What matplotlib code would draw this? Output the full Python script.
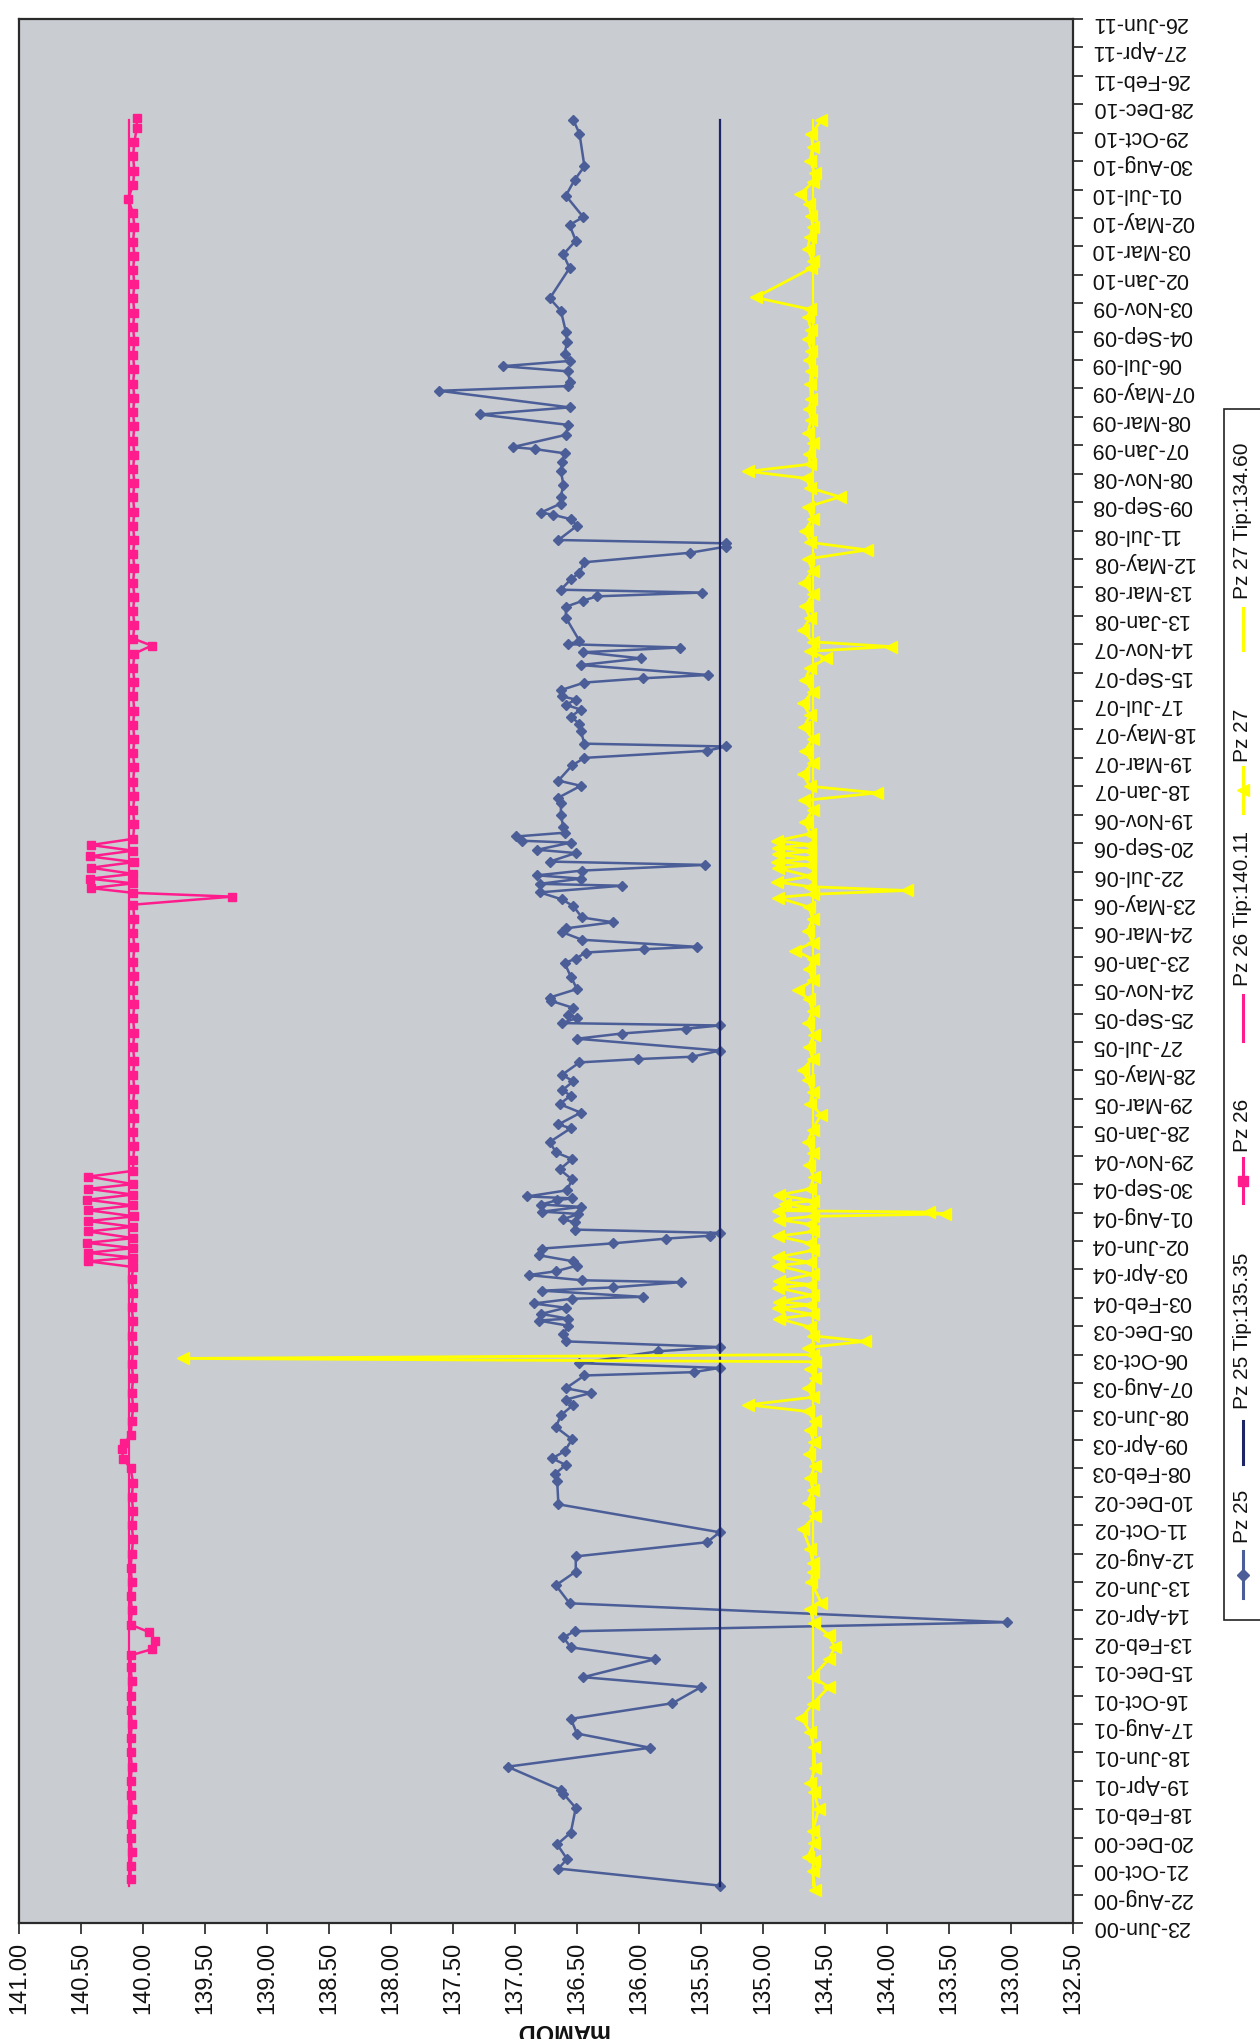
import numpy as np
import pandas as pd
import matplotlib
matplotlib.use("Agg")
import matplotlib.pyplot as plt
import matplotlib.transforms as mtransforms
from matplotlib.lines import Line2D
from matplotlib.patches import Rectangle

# ---------------------------------------------------------------------------
# Piezometer readings, dates as Excel serial numbers (origin 1899-12-30)
# ---------------------------------------------------------------------------
pz25_serial = [
    36779, 36815, 36835, 36866, 36891, 36943, 36973, 36981, 37030, 37070, 37100, 37131,
    37164, 37198, 37219, 37257, 37282, 37303, 37316, 37335, 37375, 37413, 37442, 37474,
    37504, 37525, 37584, 37634, 37648, 37667, 37681, 37696, 37721, 37747, 37772, 37794,
    37805, 37819, 37829, 37856, 37863, 37872, 37882, 37907, 37916, 37928, 37943, 37961,
    37972, 37976, 37986, 37999, 38008, 38018, 38022, 38035, 38042, 38053, 38057, 38068,
    38076, 38088, 38097, 38110, 38124, 38135, 38145, 38151, 38157, 38164, 38179, 38186,
    38197, 38202, 38212, 38217, 38226, 38230, 38234, 38247, 38270, 38291, 38313, 38327,
    38349, 38378, 38386, 38411, 38429, 38447, 38458, 38477, 38491, 38517, 38524, 38529,
    38542, 38567, 38578, 38588, 38595, 38600, 38611, 38618, 38632, 38647, 38654, 38672,
    38698, 38727, 38736, 38749, 38756, 38761, 38776, 38792, 38800, 38813, 38823, 38847,
    38861, 38876, 38890, 38894, 38905, 38912, 38922, 38934, 38941, 38959, 38966, 38981,
    38985, 38994, 39002, 39013, 39040, 39064, 39076, 39101, 39112, 39144, 39160, 39175,
    39184, 39190, 39217, 39232, 39247, 39262, 39272, 39283, 39290, 39303, 39319, 39328,
    39335, 39356, 39370, 39383, 39393, 39400, 39407, 39456, 39479, 39492, 39501, 39509,
    39515, 39537, 39551, 39573, 39593, 39606, 39613, 39620, 39650, 39664, 39673, 39678,
    39697, 39711, 39737, 39766, 39784, 39803, 39812, 39816, 39842, 39863, 39885, 39900,
    39935, 39945, 39954, 39976, 39987, 39998, 40013, 40038, 40060, 40104, 40130, 40194,
    40223, 40252, 40285, 40302, 40347, 40380, 40409, 40478, 40507,
]
pz25_level = [
    135.35, 136.65, 136.58, 136.66, 136.55, 136.51, 136.61, 136.63, 137.06, 135.91, 136.50, 136.55,
    135.73, 135.50, 136.45, 135.87, 136.55, 136.61, 136.52, 133.03, 136.56, 136.67, 136.51, 136.51,
    135.45, 135.35, 136.65, 136.66, 136.68, 136.59, 136.70, 136.60, 136.54, 136.67, 136.63, 136.53,
    136.59, 136.39, 136.59, 136.44, 135.56, 135.35, 136.48, 135.85, 135.35, 136.59, 136.61, 136.57,
    136.81, 136.57, 136.79, 136.59, 136.85, 136.54, 135.97, 136.78, 136.21, 135.66, 136.46, 136.89,
    136.67, 136.50, 136.53, 136.81, 136.78, 136.21, 135.78, 135.43, 135.35, 136.52, 136.52, 136.61,
    136.49, 136.78, 136.47, 136.79, 136.66, 136.54, 136.90, 136.58, 136.54, 136.64, 136.54, 136.67,
    136.72, 136.55, 136.65, 136.47, 136.64, 136.55, 136.62, 136.53, 136.62, 136.48, 136.01, 135.57,
    135.35, 136.50, 136.14, 135.62, 135.35, 136.62, 136.50, 136.57, 136.53, 136.71, 136.72, 136.50,
    136.55, 136.60, 136.51, 136.43, 135.96, 135.53, 136.46, 136.62, 136.59, 136.21, 136.46, 136.53,
    136.62, 136.80, 136.14, 136.80, 136.47, 136.82, 136.46, 135.47, 136.72, 136.51, 136.82, 136.55,
    136.94, 136.99, 136.60, 136.61, 136.63, 136.63, 136.65, 136.47, 136.65, 136.54, 136.44, 135.45,
    135.30, 136.44, 136.47, 136.48, 136.55, 136.47, 136.59, 136.51, 136.62, 136.63, 136.44, 135.97,
    135.44, 136.47, 135.98, 136.45, 135.67, 136.57, 136.48, 136.59, 136.59, 136.45, 136.34, 135.49,
    136.63, 136.55, 136.48, 136.44, 135.59, 135.30, 135.30, 136.65, 136.50, 136.55, 136.69, 136.79,
    136.63, 136.63, 136.61, 136.63, 136.62, 136.60, 136.84, 137.02, 136.59, 136.57, 137.28, 136.56,
    137.61, 136.57, 136.56, 136.57, 137.10, 136.56, 136.60, 136.58, 136.59, 136.63, 136.72, 136.56,
    136.61, 136.51, 136.56, 136.45, 136.59, 136.52, 136.44, 136.48, 136.53,
]

pz26_serial = [
    36793, 36820, 36850, 36880, 36910, 36940, 36970, 37000, 37030, 37060, 37090, 37120,
    37150, 37180, 37210, 37240, 37265, 37278, 37296, 37314, 37330, 37360, 37390, 37420,
    37450, 37480, 37510, 37540, 37570, 37600, 37630, 37660, 37680, 37700, 37713, 37730,
    37760, 37790, 37820, 37850, 37880, 37910, 37940, 37970, 38000, 38030, 38060, 38085,
    38097, 38105, 38115, 38125, 38136, 38146, 38160, 38170, 38182, 38192, 38205, 38215,
    38227, 38238, 38250, 38260, 38276, 38288, 38310, 38340, 38370, 38400, 38430, 38460,
    38490, 38520, 38550, 38580, 38610, 38640, 38670, 38700, 38730, 38760, 38790, 38820,
    38850, 38867, 38875, 38885, 38895, 38905, 38915, 38928, 38940, 38952, 38964, 38976,
    38989, 39020, 39050, 39080, 39110, 39140, 39170, 39200, 39230, 39260, 39290, 39320,
    39350, 39380, 39397, 39412, 39440, 39470, 39500, 39530, 39560, 39590, 39620, 39650,
    39680, 39710, 39740, 39770, 39800, 39830, 39860, 39890, 39920, 39950, 39980, 40010,
    40040, 40070, 40100, 40130, 40160, 40190, 40220, 40250, 40280, 40310, 40340, 40370,
    40400, 40430, 40460, 40490, 40512,
]
pz26_level = [
    140.10, 140.10, 140.09, 140.10, 140.10, 140.09, 140.10, 140.10, 140.09, 140.10, 140.10, 140.09,
    140.10, 140.10, 140.09, 140.10, 140.10, 139.93, 139.90, 139.95, 140.10, 140.09, 140.10, 140.09,
    140.10, 140.09, 140.08, 140.09, 140.08, 140.09, 140.08, 140.10, 140.16, 140.17, 140.15, 140.10,
    140.09, 140.08, 140.09, 140.08, 140.09, 140.08, 140.09, 140.08, 140.09, 140.08, 140.09, 140.08,
    140.44, 140.08, 140.44, 140.08, 140.45, 140.08, 140.44, 140.08, 140.44, 140.07, 140.44, 140.08,
    140.45, 140.08, 140.44, 140.08, 140.44, 140.08, 140.08, 140.07, 140.08, 140.07, 140.08, 140.07,
    140.08, 140.07, 140.08, 140.07, 140.08, 140.07, 140.08, 140.07, 140.08, 140.07, 140.08, 140.07,
    140.08, 139.28, 140.08, 140.42, 140.08, 140.43, 140.08, 140.42, 140.07, 140.43, 140.08, 140.42,
    140.08, 140.07, 140.08, 140.07, 140.08, 140.07, 140.08, 140.07, 140.08, 140.07, 140.08, 140.07,
    140.08, 140.07, 139.93, 140.08, 140.07, 140.08, 140.07, 140.08, 140.07, 140.08, 140.07, 140.08,
    140.07, 140.08, 140.07, 140.08, 140.07, 140.08, 140.07, 140.08, 140.07, 140.08, 140.07, 140.08,
    140.07, 140.08, 140.07, 140.08, 140.07, 140.08, 140.07, 140.08, 140.07, 140.08, 140.12, 140.08,
    140.07, 140.08, 140.07, 140.05, 140.05,
]

pz27_serial = [
    36770, 36810, 36831, 36839, 36868, 36894, 36941, 36976, 36995, 37027, 37071, 37104,
    37133, 37162, 37198, 37220, 37257, 37282, 37308, 37333, 37363, 37376, 37420, 37442,
    37460, 37490, 37532, 37560, 37587, 37615, 37640, 37665, 37690, 37715, 37740, 37760,
    37780, 37794, 37810, 37830, 37850, 37870, 37885, 37892, 37900, 37915, 37928, 37940,
    37958, 37976, 37985, 37998, 38005, 38012, 38025, 38041, 38048, 38055, 38070, 38088,
    38095, 38106, 38120, 38135, 38150, 38160, 38175, 38185, 38192, 38197, 38201, 38204,
    38210, 38219, 38225, 38237, 38250, 38275, 38300, 38325, 38350, 38375, 38407, 38430,
    38455, 38480, 38502, 38525, 38550, 38575, 38600, 38625, 38650, 38669, 38690, 38715,
    38735, 38753, 38770, 38795, 38820, 38845, 38865, 38872, 38880, 38888, 38898, 38910,
    38927, 38934, 38941, 38948, 38956, 38963, 38970, 38977, 38985, 39000, 39025, 39050,
    39070, 39086, 39100, 39125, 39150, 39175, 39200, 39225, 39250, 39275, 39300, 39325,
    39350, 39370, 39385, 39395, 39405, 39430, 39455, 39480, 39505, 39530, 39555, 39580,
    39599, 39615, 39640, 39665, 39690, 39711, 39730, 39750, 39765, 39780, 39802, 39825,
    39846, 39874, 39896, 39918, 39950, 39977, 40000, 40020, 40045, 40063, 40090, 40107,
    40132, 40194, 40209, 40235, 40260, 40280, 40304, 40330, 40350, 40375, 40394, 40420,
    40450, 40477, 40506,
]
pz27_level = [
    134.58, 134.60, 134.59, 134.64, 134.59, 134.60, 134.55, 134.59, 134.62, 134.58, 134.59, 134.62,
    134.69, 134.60, 134.47, 134.60, 134.47, 134.42, 134.47, 134.59, 134.62, 134.53, 134.61, 134.60,
    134.60, 134.62, 134.68, 134.58, 134.64, 134.60, 134.62, 134.58, 134.63, 134.59, 134.62, 134.58,
    134.64, 135.12, 134.60, 134.64, 134.58, 134.62, 134.58, 139.68, 134.60, 134.64, 134.18, 134.60,
    134.62, 134.87, 134.60, 134.88, 134.62, 134.87, 134.60, 134.88, 134.62, 134.87, 134.60, 134.88,
    134.62, 134.88, 134.60, 134.62, 134.88, 134.60, 134.62, 134.87, 134.60, 133.53, 133.66, 134.88,
    134.62, 134.82, 134.60, 134.87, 134.62, 134.59, 134.63, 134.60, 134.64, 134.60, 134.53, 134.62,
    134.60, 134.64, 134.68, 134.60, 134.63, 134.59, 134.64, 134.60, 134.63, 134.72, 134.60, 134.63,
    134.60, 134.74, 134.60, 134.64, 134.60, 134.63, 134.88, 134.60, 133.84, 134.62, 134.89, 134.62,
    134.88, 134.62, 134.89, 134.62, 134.88, 134.62, 134.88, 134.62, 134.89, 134.62, 134.66, 134.60,
    134.67, 134.08, 134.62, 134.68, 134.60, 134.66, 134.60, 134.67, 134.62, 134.68, 134.60, 134.66,
    134.62, 134.49, 134.62, 133.97, 134.60, 134.68, 134.62, 134.66, 134.60, 134.67, 134.60, 134.64,
    134.16, 134.62, 134.66, 134.60, 134.64, 134.38, 134.62, 134.65, 135.12, 134.62, 134.63, 134.60,
    134.64, 134.61, 134.63, 134.61, 134.62, 134.61, 134.63, 134.61, 134.64, 134.61, 134.64, 134.62,
    135.06, 134.61, 134.60, 134.64, 134.62, 134.60, 134.61, 134.63, 134.70, 134.60, 134.58, 134.62,
    134.60, 134.61, 134.53,
]

# Tip (dry) levels, drawn over the monitoring period
tip_serial = [36779, 40507]
pz25_tip = 135.35
pz26_tip = 140.11
pz27_tip = 134.60

level_ticks = [141.00, 140.50, 140.00, 139.50, 139.00, 138.50, 138.00, 137.50, 137.00,
               136.50, 136.00, 135.50, 135.00, 134.50, 134.00, 133.50, 133.00, 132.50]
date_axis_start = "2000-06-23"
date_axis_end = "2011-06-26"
date_tick_step = "60D"


def excel_dates(serials):
    return pd.to_datetime(np.asarray(serials, dtype=float), unit="D", origin="1899-12-30")


W, H = 1260, 2040
fig = plt.figure(figsize=(W / 100, H / 100), dpi=100)
fig.patch.set_facecolor("white")

# page is printed sideways: values run along the bottom, dates up the right side
ax_l, ax_r, ax_t, ax_b = 19, 1073, 20, 1924
ax = fig.add_axes([ax_l / W, 1 - ax_b / H, (ax_r - ax_l) / W, (ax_b - ax_t) / H])
ax.set_facecolor("#c9ccd1")

blue = "#4b5e98"
tip_blue = "#1c2566"
pink = "#ff1d8d"
yellow = "#ffff00"

ax.plot(pz25_level, excel_dates(pz25_serial), color=blue, lw=1.8, marker="D", ms=5.5,
        mec=blue, mfc=blue, zorder=3)
ax.plot([pz25_tip] * len(tip_serial), excel_dates(tip_serial), color=tip_blue, lw=1.6, zorder=3)
ax.plot(pz26_level, excel_dates(pz26_serial), color=pink, lw=1.8, marker="s", ms=6,
        mec=pink, mfc=pink, zorder=4)
ax.plot([pz26_tip] * len(tip_serial), excel_dates(tip_serial), color=pink, lw=1.6, zorder=4)
ax.plot(pz27_level, excel_dates(pz27_serial), color=yellow, lw=2.0, marker="<", ms=8,
        mec=yellow, mfc=yellow, zorder=5)
ax.plot([pz27_tip] * len(tip_serial), excel_dates(tip_serial), color=yellow, lw=1.6, zorder=5)

ax.set_xlim(141.0, 132.5)
ax.set_ylim(pd.Timestamp(date_axis_start), pd.Timestamp(date_axis_end))

ax.set_xticks(level_ticks)
ax.set_xticklabels([f"{v:.2f}" for v in level_ticks], rotation=90,
                   fontsize=17, family=["Liberation Sans", "DejaVu Sans"], color="#111111")

date_ticks = pd.date_range(date_axis_start, date_axis_end, freq=date_tick_step)
ax.yaxis.tick_right()
ax.set_yticks(date_ticks)
ax.set_yticklabels([d.strftime("%d-%b-%y") for d in date_ticks], rotation=180,
                   fontsize=15.5, family=["Liberation Sans", "DejaVu Sans"], color="#111111")

ax.tick_params(axis="x", direction="out", length=8, width=1.2, colors="#222222", pad=5)
ax.tick_params(axis="y", direction="out", length=7, width=1.2, colors="#222222", pad=6)
ax.tick_params(axis="both", labelcolor="#111111")
for sp in ax.spines.values():
    sp.set_color("#2a2a2a")
    sp.set_linewidth(1.6)

# pixel-space transform for the page furniture (origin top-left)
px = mtransforms.Affine2D().scale(1 / W, -1 / H).translate(0, 1) + fig.transFigure

fig.text(562, 2031, "mAMOD", transform=px, rotation=180, ha="center", va="center",
         fontsize=17, fontweight="bold", family=["Liberation Sans", "DejaVu Sans"],
         color="#111111")

# legend box along the right edge, entries reading upwards
fig.add_artist(Rectangle((1224, 410), 80, 1211, transform=px, facecolor="white",
                         edgecolor="#222222", lw=1.2))
lx = 1243
legend_font = dict(rotation=90, ha="center", va="bottom", fontsize=15,
                   family=["Liberation Sans Narrow", "Liberation Sans", "DejaVu Sans"],
                   color="#111111", transform=px)
entries = [
    ("Pz 25", blue, "D", 6, (1552, 1599), 1543),
    ("Pz 25 Tip:135.35", tip_blue, None, 0, (1422, 1465), 1409),
    ("Pz 26", pink, "s", 7, (1159, 1204), 1152),
    ("Pz 26 Tip:140.11", pink, None, 0, (996, 1042), 986),
    ("Pz 27", yellow, "<", 9, (768, 814), 762),
    ("Pz 27 Tip:134.60", yellow, None, 0, (609, 651), 599),
]
for label, col, mk, msz, (y0, y1), ty in entries:
    fig.add_artist(Line2D([lx, lx], [y0, y1], transform=px, color=col, lw=2.2))
    if mk:
        fig.add_artist(Line2D([lx], [(y0 + y1) / 2], transform=px, color=col, marker=mk,
                              ms=msz, mfc=col, mec=col, lw=0))
    fig.text(lx, ty, label, **legend_font)

fig.savefig("out.png", dpi=100, facecolor="white")
